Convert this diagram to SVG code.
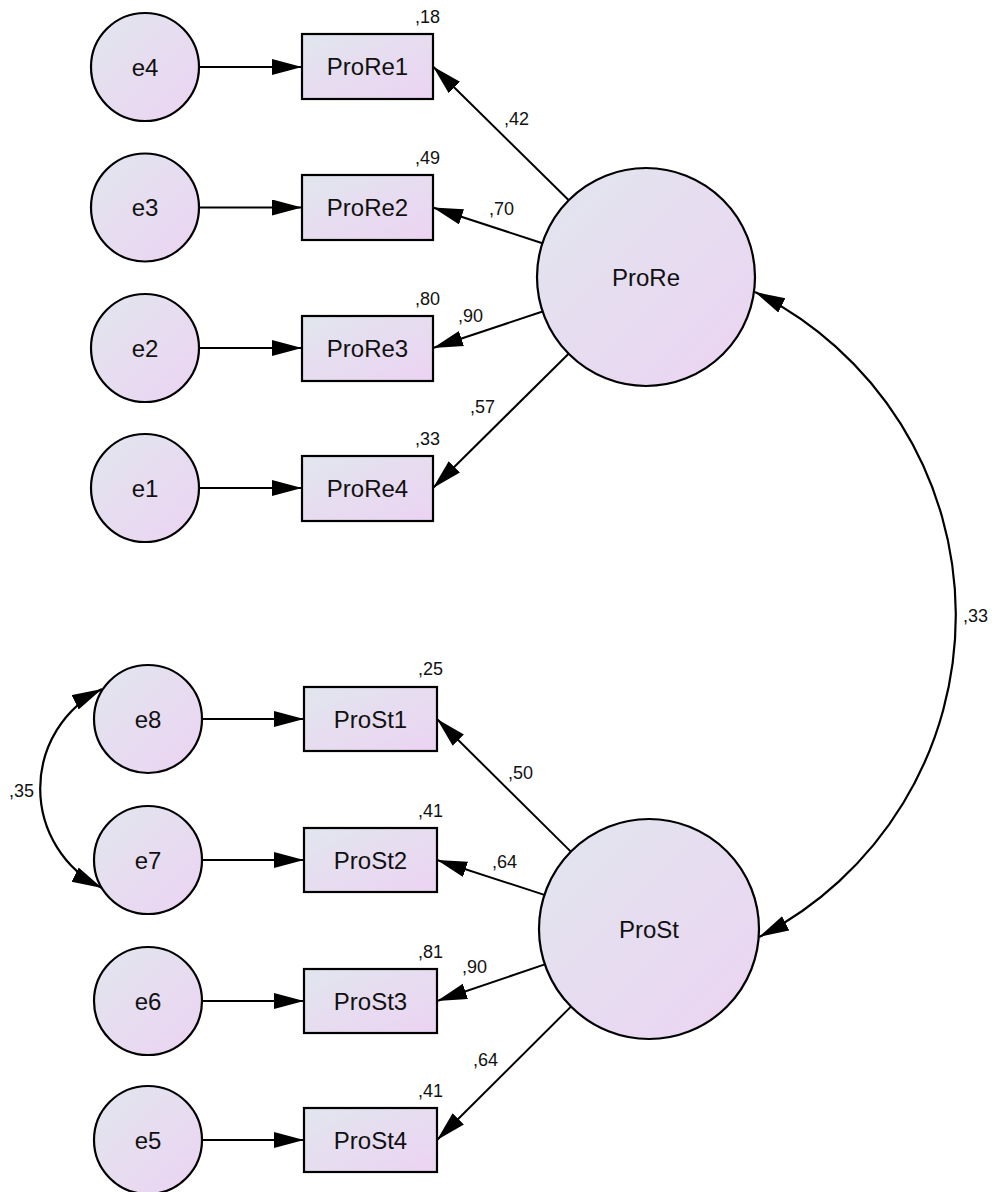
<svg xmlns="http://www.w3.org/2000/svg" width="992" height="1192" viewBox="0 0 992 1192">
  <defs>
    <linearGradient id="fillGrad" x1="0" y1="0" x2="1" y2="1">
      <stop offset="0" stop-color="#E1E6EE"/>
      <stop offset="1" stop-color="#ECD3F2"/>
    </linearGradient>
    <marker id="arrow" markerUnits="userSpaceOnUse" markerWidth="31" markerHeight="17" refX="30" refY="8" orient="auto-start-reverse">
      <path d="M0,0 L30,8 L0,16 z" fill="#000"/>
    </marker>
    <style>
      .node { fill: url(#fillGrad); stroke: #000; stroke-width: 2.2; }
      .lbl { font-family: "Liberation Sans", Arial, sans-serif; font-size: 24px; fill: #111; text-anchor: middle; }
      .num { font-family: "Liberation Sans", Arial, sans-serif; font-size: 18px; fill: #111; }
      .edge { fill: none; stroke: #000; stroke-width: 2; marker-end: url(#arrow); }
      .cov { fill: none; stroke: #000; stroke-width: 2.2; marker-start: url(#arrow); marker-end: url(#arrow); }
    </style>
  </defs>

  <!-- paths, covariances and their estimates -->
  <g id="connectors">
    <!-- error terms to indicators, ProRe block -->
    <line class="edge" x1="199" y1="67" x2="302" y2="67"/>
    <line class="edge" x1="199" y1="207.5" x2="302" y2="207.5"/>
    <line class="edge" x1="199" y1="348" x2="302" y2="348"/>
    <line class="edge" x1="199" y1="488" x2="302" y2="488"/>
    <!-- error terms to indicators, ProSt block -->
    <line class="edge" x1="202" y1="719" x2="304" y2="719"/>
    <line class="edge" x1="202" y1="860" x2="304" y2="860"/>
    <line class="edge" x1="202" y1="1001" x2="304" y2="1001"/>
    <line class="edge" x1="202" y1="1140" x2="304" y2="1140"/>
    <!-- loadings ProRe -->
    <line class="edge" x1="568.5" y1="200" x2="433" y2="66.5"/>
    <line class="edge" x1="542.4" y1="243.2" x2="433" y2="207.5"/>
    <line class="edge" x1="542.6" y1="311.5" x2="433" y2="348"/>
    <line class="edge" x1="568.6" y1="353.7" x2="433" y2="488"/>
    <!-- loadings ProSt -->
    <line class="edge" x1="570.8" y1="851.6" x2="437" y2="719"/>
    <line class="edge" x1="544.4" y1="894.9" x2="437" y2="860"/>
    <line class="edge" x1="544.8" y1="964.4" x2="437" y2="1001"/>
    <line class="edge" x1="571" y1="1006.6" x2="437" y2="1140"/>
    <!-- covariances -->
    <path class="cov" d="M755,292 A361,361 0 0 1 759,937"/>
    <path class="cov" d="M102,689 A111,111 0 0 0 102,888"/>

    <!-- loading estimates -->
    <text class="num" x="504" y="125">,42</text>
    <text class="num" x="489" y="215">,70</text>
    <text class="num" x="458" y="322">,90</text>
    <text class="num" x="470" y="413">,57</text>
    <text class="num" x="508" y="779">,50</text>
    <text class="num" x="492" y="868">,64</text>
    <text class="num" x="462" y="973">,90</text>
    <text class="num" x="473" y="1066">,64</text>
    <!-- covariance estimates -->
    <text class="num" x="963" y="622">,33</text>
    <text class="num" x="9" y="797">,35</text>
  </g>

  <!-- latent factors -->
  <g id="ProRe">
    <circle class="node" cx="646" cy="277" r="109"/>
    <text class="lbl" x="646" y="286">ProRe</text>
  </g>
  <g id="ProSt">
    <circle class="node" cx="649" cy="929" r="110"/>
    <text class="lbl" x="649" y="938">ProSt</text>
  </g>

  <!-- observed indicators with squared multiple correlations -->
  <g id="ProRe1">
    <rect class="node" x="302" y="34" width="131" height="65"/>
    <text class="lbl" x="367.5" y="75">ProRe1</text>
    <text class="num" x="440" y="23" text-anchor="end">,18</text>
  </g>
  <g id="ProRe2">
    <rect class="node" x="302" y="175" width="131" height="65"/>
    <text class="lbl" x="367.5" y="216">ProRe2</text>
    <text class="num" x="440" y="164" text-anchor="end">,49</text>
  </g>
  <g id="ProRe3">
    <rect class="node" x="302" y="316" width="131" height="65"/>
    <text class="lbl" x="367.5" y="357">ProRe3</text>
    <text class="num" x="440" y="305" text-anchor="end">,80</text>
  </g>
  <g id="ProRe4">
    <rect class="node" x="302" y="456" width="131" height="65"/>
    <text class="lbl" x="367.5" y="497">ProRe4</text>
    <text class="num" x="440" y="445" text-anchor="end">,33</text>
  </g>
  <g id="ProSt1">
    <rect class="node" x="304" y="687" width="133" height="64"/>
    <text class="lbl" x="370.5" y="727.5">ProSt1</text>
    <text class="num" x="443" y="675" text-anchor="end">,25</text>
  </g>
  <g id="ProSt2">
    <rect class="node" x="304" y="828" width="133" height="64"/>
    <text class="lbl" x="370.5" y="868.5">ProSt2</text>
    <text class="num" x="443" y="817" text-anchor="end">,41</text>
  </g>
  <g id="ProSt3">
    <rect class="node" x="304" y="969" width="133" height="64"/>
    <text class="lbl" x="370.5" y="1009.5">ProSt3</text>
    <text class="num" x="443" y="958" text-anchor="end">,81</text>
  </g>
  <g id="ProSt4">
    <rect class="node" x="304" y="1108" width="133" height="64"/>
    <text class="lbl" x="370.5" y="1148.5">ProSt4</text>
    <text class="num" x="443" y="1097" text-anchor="end">,41</text>
  </g>

  <!-- error terms -->
  <g id="e4"><circle class="node" cx="145" cy="67" r="54"/><text class="lbl" x="145" y="75.5">e4</text></g>
  <g id="e3"><circle class="node" cx="145" cy="207.5" r="54"/><text class="lbl" x="145" y="216">e3</text></g>
  <g id="e2"><circle class="node" cx="145" cy="348" r="54"/><text class="lbl" x="145" y="356.5">e2</text></g>
  <g id="e1"><circle class="node" cx="145" cy="488" r="54"/><text class="lbl" x="145" y="496.5">e1</text></g>
  <g id="e8"><circle class="node" cx="148" cy="719" r="54"/><text class="lbl" x="148" y="727.5">e8</text></g>
  <g id="e7"><circle class="node" cx="148" cy="860" r="54"/><text class="lbl" x="148" y="868.5">e7</text></g>
  <g id="e6"><circle class="node" cx="148" cy="1001" r="54"/><text class="lbl" x="148" y="1009.5">e6</text></g>
  <g id="e5"><circle class="node" cx="148" cy="1140" r="54"/><text class="lbl" x="148" y="1148.5">e5</text></g>
</svg>
